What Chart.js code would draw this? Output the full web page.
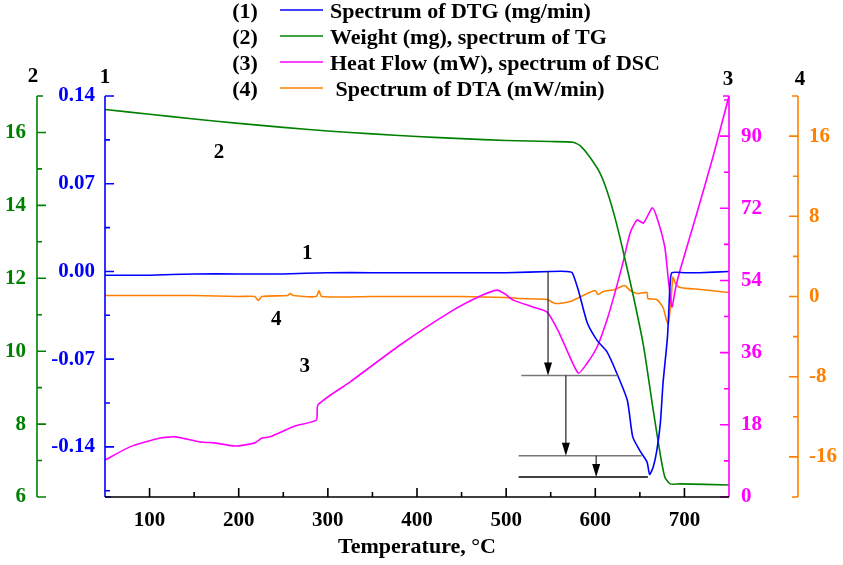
<!DOCTYPE html>
<html>
<head>
<meta charset="utf-8">
<script src="https://cdn.jsdelivr.net/npm/chart.js@4/dist/chart.umd.min.js"></script>
<style>
  html, body { margin: 0; padding: 0; background: #fff; }
</style>
</head>
<body>
<canvas id="myChart" width="843" height="565"></canvas>
<script>
'use strict';

// (1) DTG, mg/min
let dtgT = [50, 100, 150, 200, 250, 300, 350, 400, 450, 500, 550, 568, 574, 581, 591, 602, 613, 624, 636, 642, 650, 658, 661, 665, 669, 673, 676, 681, 684, 686, 700, 717, 750];
let dtgV = [-0.003, -0.003, -0.002, -0.002, -0.002, -0.001, -0.001, -0.001, -0.001, -0.001, 0.000, 0.000, -0.001, -0.015, -0.041, -0.055, -0.064, -0.081, -0.103, -0.132, -0.143, -0.152, -0.162, -0.156, -0.143, -0.121, -0.089, -0.052, -0.009, -0.001, -0.001, -0.001, 0.000];

// (2) TG, weight mg
let tgT = [50, 100, 150, 200, 250, 300, 350, 400, 450, 500, 550, 575, 583, 594, 605, 613, 622, 631, 642, 654, 665, 673, 678, 684, 695, 750];
let tgV = [16.63, 16.5, 16.37, 16.25, 16.14, 16.04, 15.96, 15.89, 15.83, 15.78, 15.75, 15.73, 15.64, 15.32, 14.9, 14.41, 13.67, 12.77, 11.59, 10.16, 8.38, 7.15, 6.55, 6.36, 6.36, 6.33];

// (3) DSC, heat flow mW
let dscT = [50, 78, 112, 129, 157, 173, 196, 218, 226, 235, 263, 287, 289, 325, 381, 437, 471, 490, 499, 508, 530, 546, 558, 568, 581, 591, 602, 613, 622, 631, 639, 647, 654, 664, 670, 678, 682, 686, 690, 695, 714, 732, 750];
let dscV = [9.2, 12.5, 14.7, 15.0, 13.7, 13.5, 12.7, 13.5, 14.7, 15.0, 17.7, 19.2, 23.0, 28.7, 37.9, 46.1, 50.1, 51.6, 50.6, 49.1, 47.4, 46.1, 41.6, 36.7, 30.9, 33.4, 37.4, 44.1, 50.9, 58.4, 65.8, 69.1, 68.3, 72.1, 69.1, 62.3, 54.1, 47.4, 52.0, 56.5, 70.8, 84.8, 100];

// (4) DTA, mW/min
let dtaT = [50, 150, 200, 218, 222, 226, 255, 258, 261, 287, 290, 293, 350, 400, 450, 500, 516, 546, 555, 572, 591, 600, 603, 609, 622, 633, 639, 647, 658, 659, 669, 676, 680, 682, 685, 687, 690, 695, 718, 750];
let dtaV = [0.1, 0.1, 0.0, 0.0, -0.4, 0.0, 0.1, 0.3, 0.1, 0.0, 0.6, 0.0, 0.0, 0.0, 0.0, -0.1, -0.2, -0.3, -0.7, -0.5, 0.3, 0.6, 0.2, 0.5, 0.7, 1.1, 0.6, 0.3, 0.4, -0.2, -0.3, -1.1, -2.4, -2.7, -0.4, 1.9, 1.3, 0.9, 0.7, 0.4];

let seriesNames = ['Spectrum of DTG (mg/min)', 'Weight (mg), spectrum of TG', 'Heat Flow (mW), spectrum of DSC', ' Spectrum of DTA (mW/min)'];

// tick labels
let xTicks = [50, 100, 150, 200, 250, 300, 350, 400, 450, 500, 550, 600, 650, 700, 750];
let dtgTicks = [-0.14, -0.07, 0, 0.07, 0.14];
let tgTicks = [6, 8, 10, 12, 14, 16];
let dscTicks = [0, 18, 36, 54, 72, 90];
let dtaTicks = [-16, -8, 0, 8, 16];

// stepwise arrows under the DTG curve (temperature, DTG value)
let arrowT = [547, 567, 601];
let arrowFrom = [0.0, -0.083, -0.147];
let arrowTo = [-0.083, -0.147, -0.164];
let stepFrom = [517, 514, 514];
let stepTo = [625, 652, 659];

let blue = '#0000ff';
let green = '#008000';
let magenta = '#ff00ff';
let orange = '#ff8000';
let fontName = 'Liberation Serif';
let tickFont = { family: fontName, weight: 'bold', size: 21 };
let titleFont = { family: fontName, weight: 'bold', size: 22 };

function toPoints(xs, ys) {
  return xs.map((x, i) => ({ x: x, y: ys[i] }));
}

function fixWidth(w) {
  return function (scale) { scale.width = w; };
}

function useTicks(list) {
  return function (scale) { scale.ticks = list.map(v => ({ value: v })); };
}

function yAxis(pos, weight, min, max, list, width, color, pad, fmt) {
  return {
    type: 'linear', position: pos, weight: weight, min: min, max: max,
    afterBuildTicks: useTicks(list),
    afterFit: fixWidth(width),
    grid: { display: false, drawTicks: false },
    border: { display: false },
    ticks: { color: color, font: tickFont, padding: pad, callback: fmt }
  };
}

function drawYAxis(ctx, scale, x, dir, majors, color, area) {
  ctx.strokeStyle = color;
  ctx.lineWidth = 1.6;
  ctx.beginPath();
  ctx.moveTo(x, area.top);
  ctx.lineTo(x, area.bottom);
  let step = majors[1] - majors[0];
  majors.forEach(v => {
    let y = scale.getPixelForValue(v);
    ctx.moveTo(x, y);
    ctx.lineTo(x + dir * 9, y);
  });
  for (let v = majors[0] - step / 2; v <= scale.max + 1e-9; v += step) {
    if (v < scale.min - 1e-9) continue;
    let y = scale.getPixelForValue(v);
    ctx.moveTo(x, y);
    ctx.lineTo(x + dir * 5, y);
  }
  [scale.min, scale.max].forEach(v => {
    let y = scale.getPixelForValue(v);
    ctx.moveTo(x, y);
    ctx.lineTo(x + dir * 6, y);
  });
  ctx.stroke();
}

function drawText(ctx, txt, x, y, align) {
  ctx.textAlign = align || 'center';
  ctx.fillText(txt, x, y);
}

let decor = {
  id: 'decor',
  afterDraw(chart) {
    let ctx = chart.ctx;
    let area = chart.chartArea;
    let s = chart.scales;
    ctx.save();

    drawYAxis(ctx, s.yTG, s.yTG.right, 1, tgTicks, green, area);
    drawYAxis(ctx, s.yDTG, s.yDTG.right, 1, dtgTicks, blue, area);
    drawYAxis(ctx, s.yDSC, s.yDSC.left, -1, dscTicks, magenta, area);
    drawYAxis(ctx, s.yDTA, s.yDTA.left, -1, dtaTicks, orange, area);

    // x axis line with inner ticks
    ctx.strokeStyle = '#000';
    ctx.lineWidth = 1.6;
    ctx.beginPath();
    ctx.moveTo(area.left, area.bottom);
    ctx.lineTo(area.right, area.bottom);
    xTicks.forEach(v => {
      if (v <= s.x.min || v >= s.x.max) return;
      let x = s.x.getPixelForValue(v);
      ctx.moveTo(x, area.bottom);
      ctx.lineTo(x, area.bottom - (v % 100 === 0 ? 9 : 5));
    });
    ctx.stroke();

    // axis numbers and curve numbers
    ctx.fillStyle = '#000';
    ctx.font = 'bold 21px "' + fontName + '"';
    ctx.textBaseline = 'middle';
    drawText(ctx, '2', s.yTG.right - 4, 77);
    drawText(ctx, '1', s.yDTG.right, 78);
    drawText(ctx, '3', s.yDSC.left - 1, 80);
    drawText(ctx, '4', s.yDTA.left + 2, 80);

    let cx = s.x, cy = s.yDTG;
    drawText(ctx, '1', cx.getPixelForValue(277), cy.getPixelForValue(0.0139));
    drawText(ctx, '2', cx.getPixelForValue(178), cy.getPixelForValue(0.0945));
    drawText(ctx, '3', cx.getPixelForValue(274), cy.getPixelForValue(-0.0763));
    drawText(ctx, '4', cx.getPixelForValue(242), cy.getPixelForValue(-0.0388));

    // legend
    ctx.font = 'bold 22px "' + fontName + '"';
    let rowY = [12, 38, 64, 90];
    chart.data.datasets.forEach((ds, i) => {
      ctx.fillStyle = '#000';
      drawText(ctx, '(' + (i + 1) + ')', 245, rowY[i]);
      ctx.strokeStyle = ds.borderColor;
      ctx.lineWidth = 1.6;
      ctx.beginPath();
      ctx.moveTo(280, rowY[i] - 2);
      ctx.lineTo(323, rowY[i] - 2);
      ctx.stroke();
      drawText(ctx, seriesNames[i], 330, rowY[i], 'left');
    });

    // step lines and arrows
    for (let i = 0; i < arrowT.length; i++) {
      let y1 = cy.getPixelForValue(arrowTo[i]);
      ctx.strokeStyle = i < 2 ? '#777' : '#000';
      ctx.lineWidth = 1.5;
      ctx.beginPath();
      ctx.moveTo(cx.getPixelForValue(stepFrom[i]), y1);
      ctx.lineTo(cx.getPixelForValue(stepTo[i]), y1);
      ctx.stroke();
    }
    for (let i = 0; i < arrowT.length; i++) {
      let x = cx.getPixelForValue(arrowT[i]);
      let y0 = cy.getPixelForValue(arrowFrom[i]);
      let y1 = cy.getPixelForValue(arrowTo[i]);
      ctx.strokeStyle = '#222';
      ctx.lineWidth = 1.2;
      ctx.beginPath();
      ctx.moveTo(x, y0);
      ctx.lineTo(x, y1 - 10);
      ctx.stroke();
      ctx.fillStyle = '#000';
      ctx.beginPath();
      ctx.moveTo(x - 4, y1 - 13);
      ctx.lineTo(x + 4, y1 - 13);
      ctx.lineTo(x, y1);
      ctx.closePath();
      ctx.fill();
    }
    ctx.restore();
  }
};

function line(i, xs, ys, color, axis) {
  return {
    label: seriesNames[i],
    data: toPoints(xs, ys),
    borderColor: color,
    backgroundColor: color,
    borderWidth: 1.6,
    pointRadius: 0,
    tension: 0.2,
    yAxisID: axis,
    clip: 4
  };
}

let config = {
  type: 'line',
  data: {
    datasets: [
      line(0, dtgT, dtgV, blue, 'yDTG'),
      line(1, tgT, tgV, green, 'yTG'),
      line(2, dscT, dscV, magenta, 'yDSC'),
      line(3, dtaT, dtaV, orange, 'yDTA')
    ]
  },
  options: {
    responsive: false,
    animation: false,
    layout: { padding: { top: 96, left: 0, right: 0, bottom: 0 } },
    plugins: { legend: { display: false }, tooltip: { enabled: false } },
    scales: {
      x: {
        type: 'linear', position: 'bottom', min: 50, max: 750,
        afterBuildTicks: useTicks(xTicks),
        afterFit: function (scale) { scale.height = 68; },
        grid: { display: false, drawTicks: false },
        border: { display: false },
        ticks: {
          color: '#000', font: tickFont, padding: 11, autoSkip: false, maxRotation: 0,
          callback: v => (v % 100 === 0 && v < 750 ? String(v) : '')
        },
        title: {
          display: true, text: 'Temperature, °C', color: '#000',
          font: titleFont, padding: { top: 0, bottom: 4 }
        }
      },
      yTG: yAxis('left', 2, 6, 17, tgTicks, 37, green, 11, v => String(v)),
      yDTG: yAxis('left', 1, -0.18, 0.14, dtgTicks, 68, blue, 10, v => v.toFixed(2)),
      yDSC: yAxis('right', 1, 0, 100, dscTicks, 69, magenta, 12, v => String(v)),
      yDTA: yAxis('right', 2, -20, 20, dtaTicks, 45, orange, 11, v => String(v))
    }
  },
  plugins: [decor]
};

let myChart = new Chart(document.getElementById('myChart'), config);
</script>
</body>
</html>
